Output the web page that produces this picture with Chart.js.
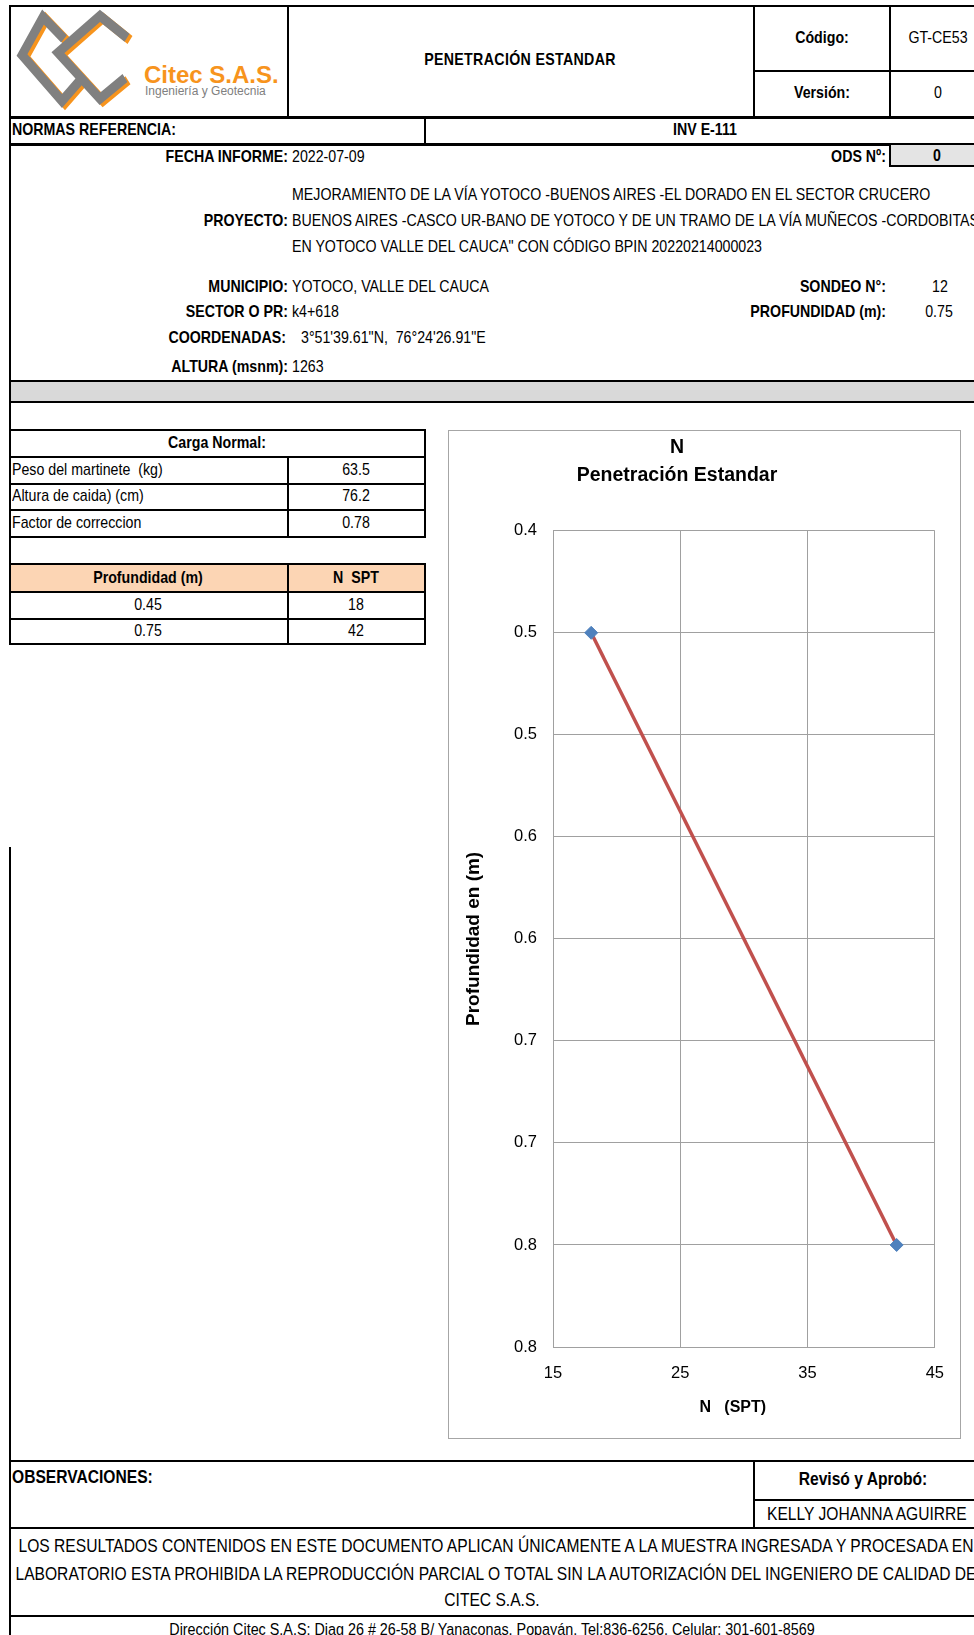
<!DOCTYPE html>
<html>
<head>
<meta charset="utf-8">
<script src="https://cdn.jsdelivr.net/npm/chart.js@4.4.0/dist/chart.umd.min.js"></script>
<style>
  html,body{margin:0;padding:0;background:#fff;}
  body{width:974px;height:1635px;overflow:hidden;position:relative;}
  .t{position:absolute;white-space:nowrap;font-family:'Liberation Sans',Arial,sans-serif;font-size:17px;line-height:20px;height:20px;color:#000;
     transform-origin:left center;transform:scaleX(0.835);}
  .big{font-size:18.7px;}
  .r{transform-origin:right center;transform:translateX(-100%) scaleX(0.835);}
  .c{transform-origin:center center;transform:translateX(-50%) scaleX(0.835);}
  .b{font-weight:bold;}
  .h{position:absolute;background:#000;height:2px;}
  .v{position:absolute;background:#000;width:2px;}
</style>
</head>
<body>
<script>
// ---- Data ----
const nSpt = [18, 42];
const depthM = [0.45, 0.75];
const depthLabels = ['0.45', '0.75'];
const xMin = 15, xMax = 45, xStep = 10;
const yMin = 0.4, yMax = 0.8, yStep = 0.05;
const yTickLabels = ['0.4', '0.5', '0.5', '0.6', '0.6', '0.7', '0.7', '0.8', '0.8'];
const chartTitle = ['N', 'Penetración Estandar'];
const xTitle = 'N   (SPT)';
const yTitle = 'Profundidad en (m)';
</script>

<!-- logo -->
<svg style="position:absolute;left:9px;top:7px" width="279" height="110" viewBox="9 7 279 110">
  <g transform="translate(22,55) scale(1.0,1.15) translate(-22,-52)">
    <g fill="none" stroke="#f7941d" stroke-width="8.5" stroke-linejoin="miter" transform="translate(3,2)">
      <path d="M64 38 L43 19 L22 52 L62 92 L82 72"/>
      <path d="M127 37 L100 18 L58 50 L100 90 L125 72"/>
    </g>
    <g fill="none" stroke="#808080" stroke-width="8.5" stroke-linejoin="miter">
      <path d="M64 38 L43 19 L22 52 L62 92 L82 72"/>
      <path d="M127 37 L100 18 L58 50 L100 90 L125 72"/>
    </g>
  </g>
  <text x="144" y="83" font-family="'Liberation Sans',Arial,sans-serif" font-weight="bold" font-size="24" fill="#f7941d">Citec S.A.S.</text>
  <text x="145" y="95" font-family="'Liberation Sans',Arial,sans-serif" font-size="12" fill="#808080">Ingeniería y Geotecnia</text>
</svg>

<!-- frame lines -->
<div class="h" style="left:9px;top:5px;width:965px"></div>
<div class="v" style="left:9px;top:5px;height:639px"></div>
<div class="v" style="left:9px;top:847px;height:788px"></div>
<div class="v" style="left:287px;top:5px;height:112px"></div>
<div class="v" style="left:753px;top:5px;height:112px"></div>
<div class="v" style="left:889px;top:5px;height:112px"></div>
<div class="h" style="left:753px;top:70px;width:221px"></div>
<div class="h" style="left:9px;top:116px;width:965px;height:3px"></div>
<div class="v" style="left:424px;top:117px;height:27px"></div>
<div class="h" style="left:9px;top:143px;width:965px;height:3px"></div>
<div style="position:absolute;left:889px;top:145px;width:85px;height:22px;background:#e4e4e4;border-left:2px solid #000;border-bottom:2px solid #000;box-sizing:border-box"></div>

<div class="h" style="left:9px;top:380px;width:965px"></div>
<div style="position:absolute;left:11px;top:382px;width:963px;height:19px;background:#d9d9d9"></div>
<div class="h" style="left:9px;top:401px;width:965px"></div>

<!-- Carga table -->
<div class="h" style="left:9px;top:429px;width:417px"></div>
<div class="h" style="left:9px;top:456px;width:417px"></div>
<div class="h" style="left:9px;top:483px;width:417px"></div>
<div class="h" style="left:9px;top:509px;width:417px"></div>
<div class="h" style="left:9px;top:536px;width:417px"></div>
<div class="v" style="left:424px;top:429px;height:109px"></div>
<div class="v" style="left:287px;top:457px;height:80px"></div>

<!-- depth table -->
<div style="position:absolute;left:11px;top:565px;width:413px;height:26px;background:#fcd5b4"></div>
<div class="h" style="left:9px;top:563px;width:417px"></div>
<div class="h" style="left:9px;top:591px;width:417px"></div>
<div class="h" style="left:9px;top:618px;width:417px"></div>
<div class="h" style="left:9px;top:643px;width:417px"></div>
<div class="v" style="left:424px;top:563px;height:82px"></div>
<div class="v" style="left:287px;top:563px;height:82px"></div>

<!-- bottom -->
<div class="h" style="left:9px;top:1460px;width:965px"></div>
<div class="v" style="left:753px;top:1461px;height:67px"></div>
<div class="h" style="left:753px;top:1499px;width:221px"></div>
<div class="h" style="left:9px;top:1527px;width:965px"></div>
<div class="h" style="left:9px;top:1615px;width:965px"></div>

<!-- header texts -->
<div class="t b c" style="left:520px;top:50px;letter-spacing:0.4px">PENETRACIÓN ESTANDAR</div>
<div class="t b c" style="left:822px;top:28px">Código:</div>
<div class="t c" style="left:938px;top:28px">GT-CE53</div>
<div class="t b c" style="left:822px;top:83px">Versión:</div>
<div class="t c" style="left:938px;top:83px">0</div>
<div class="t b" style="left:12px;top:120px">NORMAS REFERENCIA:</div>
<div class="t b c" style="left:705px;top:120px">INV E-111</div>

<div class="t b r" style="left:288px;top:147px">FECHA INFORME:</div>
<div class="t" style="left:292px;top:147px">2022-07-09</div>
<div class="t b r" style="left:886px;top:147px">ODS Nº:</div>
<div class="t b c" style="left:937px;top:146px">0</div>

<div class="t" style="left:292px;top:185px">MEJORAMIENTO DE LA VÍA YOTOCO -BUENOS AIRES -EL DORADO EN EL SECTOR CRUCERO</div>
<div class="t b r" style="left:288px;top:211px">PROYECTO:</div>
<div class="t" style="left:292px;top:211px">BUENOS AIRES -CASCO UR-BANO DE YOTOCO Y DE UN TRAMO DE LA VÍA MUÑECOS -CORDOBITAS</div>
<div class="t" style="left:292px;top:237px">EN YOTOCO VALLE DEL CAUCA" CON CÓDIGO BPIN 20220214000023</div>

<div class="t b r" style="left:288px;top:277px">MUNICIPIO:</div>
<div class="t" style="left:292px;top:277px">YOTOCO, VALLE DEL CAUCA</div>
<div class="t b r" style="left:886px;top:277px">SONDEO N°:</div>
<div class="t c" style="left:940px;top:277px">12</div>
<div class="t b r" style="left:288px;top:302px">SECTOR O PR:</div>
<div class="t" style="left:292px;top:302px">k4+618</div>
<div class="t b r" style="left:886px;top:302px">PROFUNDIDAD (m):</div>
<div class="t c" style="left:939px;top:302px">0.75</div>
<div class="t b r" style="left:286px;top:328px">COORDENADAS:</div>
<div class="t" style="left:301px;top:328px">3°51'39.61"N,&nbsp; 76°24'26.91"E</div>
<div class="t b r" style="left:288px;top:357px">ALTURA (msnm):</div>
<div class="t" style="left:292px;top:357px">1263</div>

<!-- Carga table texts -->
<div class="t b c" style="left:217px;top:433px">Carga Normal:</div>
<div class="t" style="left:12px;top:460px">Peso del martinete&nbsp; (kg)</div>
<div class="t c" style="left:356px;top:460px">63.5</div>
<div class="t" style="left:12px;top:486px">Altura de caida) (cm)</div>
<div class="t c" style="left:356px;top:486px">76.2</div>
<div class="t" style="left:12px;top:513px">Factor de correccion</div>
<div class="t c" style="left:356px;top:513px">0.78</div>
<div class="t b c" style="left:148px;top:568px">Profundidad (m)</div>
<div class="t b c" style="left:356px;top:568px">N&nbsp; SPT</div>
<div id="depthRows"></div>

<!-- chart -->
<div style="position:absolute;left:448px;top:430px;width:513px;height:1009px;border:1px solid #a6a6a6;box-sizing:border-box"></div>
<canvas id="c" width="543" height="1009" style="position:absolute;left:418px;top:430px;width:543px;height:1009px"></canvas>

<!-- bottom texts -->
<div class="t b big" style="left:12px;top:1467px">OBSERVACIONES:</div>
<div class="t b big c" style="left:863px;top:1469px">Revisó y Aprobó:</div>
<div class="t big" style="left:767px;top:1504px">KELLY JOHANNA AGUIRRE</div>
<div class="t big c" style="left:496px;top:1536px">LOS RESULTADOS CONTENIDOS EN ESTE DOCUMENTO APLICAN ÚNICAMENTE A LA MUESTRA INGRESADA Y PROCESADA EN</div>
<div class="t big c" style="left:496px;top:1564px">LABORATORIO ESTA PROHIBIDA LA REPRODUCCIÓN PARCIAL O TOTAL SIN LA AUTORIZACIÓN DEL INGENIERO DE CALIDAD DE</div>
<div class="t big c" style="left:492px;top:1590px">CITEC S.A.S.</div>
<div class="t c" style="left:492px;top:1619px;font-size:17.2px">Dirección Citec S.A.S: Diag 26 # 26-58 B/ Yanaconas, Popayán, Tel:836-6256, Celular: 301-601-8569</div>

<script>
// depth table rows from the data arrays
(function(){
  const host = document.getElementById('depthRows');
  const rowTops = [595, 621];
  depthLabels.forEach((d, i) => {
    const a = document.createElement('div');
    a.className = 't c'; a.style.left = '148px'; a.style.top = rowTops[i] + 'px'; a.textContent = d;
    const b = document.createElement('div');
    b.className = 't c'; b.style.left = '356px'; b.style.top = rowTops[i] + 'px'; b.textContent = String(nSpt[i]);
    host.appendChild(a); host.appendChild(b);
  });
})();

Chart.defaults.font.family = "'Liberation Sans', Arial, sans-serif";
Chart.defaults.color = '#000';

new Chart(document.getElementById('c').getContext('2d'), {
  type: 'scatter',
  data: {
    datasets: [{
      data: nSpt.map((x, i) => ({ x: x, y: depthM[i] })),
      showLine: true,
      borderColor: '#c0504d',
      borderWidth: 3.5,
      pointStyle: 'rectRot',
      pointRadius: 6.5,
      pointBackgroundColor: '#4f81bd',
      pointBorderColor: '#4f81bd',
      pointBorderWidth: 1
    }]
  },
  options: {
    responsive: false,
    animation: false,
    devicePixelRatio: 1,
    layout: { padding: { left: 0, right: 25, top: 0, bottom: 0 } },
    plugins: {
      legend: { display: false },
      tooltip: { enabled: false },
      title: {
        display: true,
        text: chartTitle,
        color: '#000',
        font: { size: 19.5, weight: 'bold', lineHeight: 1.43 },
        padding: { top: 4, bottom: 41 }
      }
    },
    scales: {
      x: {
        type: 'linear',
        min: xMin, max: xMax,
        ticks: { stepSize: xStep, color: '#000', font: { size: 16.5 }, padding: 17 },
        grid: { color: '#a0a0a0', lineWidth: 1, drawTicks: false },
        border: { color: '#a0a0a0', width: 1 },
        title: { display: true, text: xTitle + '     ', color: '#000', font: { size: 16, weight: 'bold' }, padding: { top: 0, bottom: 22 } },
        afterFit: s => { s.height = 92; }
      },
      y: {
        type: 'linear',
        reverse: true,
        min: yMin, max: yMax,
        ticks: { stepSize: yStep, color: '#000', font: { size: 16.5 }, padding: 16,
                 callback: v => yTickLabels[Math.round((v - yMin) / yStep)] },
        grid: { color: '#a0a0a0', lineWidth: 1, drawTicks: false },
        border: { color: '#a0a0a0', width: 1 },
        title: { display: true, text: yTitle, color: '#000', font: { size: 19, weight: 'bold' }, padding: { top: 44.6, bottom: 0 } },
        afterFit: s => { s.width = 135; }
      }
    }
  }
});
</script>
</body>
</html>
